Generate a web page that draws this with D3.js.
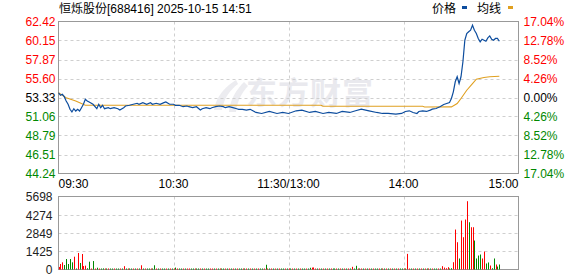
<!DOCTYPE html>
<html>
<head>
<meta charset="utf-8">
<script src="https://cdn.jsdelivr.net/npm/d3@7"></script>
<style>
  body { margin: 0; background: #fff; }
  svg { display: block; font-family: 'Liberation Sans', Arial, 'Noto Sans CJK SC', sans-serif; }
  .grid line { stroke: #cfcfcf; stroke-dasharray: 3,3; }
</style>
</head>
<body>
<svg id="chart"></svg>
<script>
// --- data ---
const title = '恒烁股份[688416] 2025-10-15 14:51';
const prevClose = 53.33;
const priceTicks = [62.42, 60.15, 57.87, 55.60, 53.33, 51.06, 48.79, 46.51, 44.24];
const pctTicks = ['17.04%', '12.78%', '8.52%', '4.26%', '0.00%', '4.26%', '8.52%', '12.78%', '17.04%'];
const volTicks = [5698, 4274, 2849, 1425, 0];
const timeLabels = ['09:30', '10:30', '11:30/13:00', '14:00', '15:00'];
const timeMinutes = [0, 60, 120, 180, 240];

// price line (minute index, price)
const priceMin = [0, 1, 2, 3, 4, 5, 6, 7, 8, 9, 10, 11, 12, 13, 14, 15, 16, 18, 20, 21, 22, 23, 24, 26, 27, 29, 31, 32, 34, 35,
  37, 39, 41, 42, 44, 46, 48, 49, 51, 53, 55, 56, 58, 60, 61, 63, 65, 67, 68, 70, 72, 74, 75, 77, 79, 80, 82, 84, 86, 87,
  89, 91, 93, 94, 96, 98, 100, 103, 106, 110, 114, 117, 120, 124, 127, 131, 134, 138, 141, 145, 148, 152, 155, 158, 162, 166, 169, 172, 176, 179,
  181, 183, 185, 187, 188, 190, 192, 194, 195, 197, 199, 201, 204, 205, 206, 207, 208, 209, 210, 211, 212, 213, 214, 215, 216, 217, 218, 219, 220, 221,
  222, 223, 224, 225, 226, 227, 228, 229, 230];
const priceVal = [53.90, 53.59, 53.71, 53.43, 52.91, 52.52, 51.92, 51.60, 51.99, 51.71, 51.92, 51.71, 52.11, 52.52, 53.11, 52.91, 52.79, 52.52, 51.99, 52.52, 52.11, 52.40, 51.99, 52.11, 51.99, 52.11, 51.99, 51.83, 52.11, 52.31,
  52.40, 52.52, 52.64, 52.52, 52.71, 52.52, 52.71, 52.52, 52.64, 52.52, 52.71, 52.79, 52.52, 52.52, 52.40, 52.40, 52.23, 52.31, 52.23, 52.11, 52.23, 51.83, 51.99, 52.11, 51.99, 52.11, 52.23, 52.31, 52.23, 52.11,
  52.23, 52.11, 51.99, 51.92, 51.92, 51.83, 51.92, 51.54, 51.42, 51.66, 51.42, 51.54, 51.42, 51.74, 51.82, 51.54, 51.66, 51.42, 51.54, 51.42, 51.66, 51.54, 51.74, 51.94, 51.74, 51.54, 51.42, 51.42, 51.34, 51.42,
  51.66, 51.74, 51.54, 51.42, 51.66, 51.74, 51.66, 51.82, 51.94, 52.01, 52.22, 52.49, 52.73, 53.21, 54.01, 55.21, 55.81, 55.00, 55.81, 57.60, 60.18, 60.98, 61.19, 61.38, 61.98, 61.38, 60.98, 60.39, 59.99, 60.30,
  60.18, 60.06, 60.46, 60.70, 60.30, 60.18, 60.39, 60.39, 60.06];

// average line (minute index, price)
const avgMin = [0, 4, 9, 14, 137, 138, 190, 191, 205, 208, 210, 213, 216, 218, 222, 225, 230];
const avgVal = [53.90, 53.31, 52.91, 52.40, 52.40, 52.28, 52.28, 52.20, 52.21, 52.61, 53.21, 54.20, 55.00, 55.52, 55.72, 55.81, 55.88];

// volume per minute (m0..m230) and direction r = up, g = down
const volumes = [
  200, 430, 560, 350, 820, 430, 820, 560, 1000, 80,
  1290, 510, 1210, 270, 300, 100, 610, 60, 660, 70,
  140, 60, 50, 90, 60, 40, 70, 50, 60, 80,
  60, 40, 50, 70, 260, 50, 60, 40, 70, 50,
  60, 50, 40, 330, 60, 50, 40, 70, 50, 60,
  330, 50, 60, 40, 70, 50, 40, 60, 50, 70,
  50, 150, 60, 40, 50, 70, 50, 60, 40, 50,
  60, 50, 40, 70, 60, 50, 40, 60, 50, 70,
  50, 60, 40, 50, 70, 60, 50, 40, 60, 50,
  60, 40, 70, 50, 60, 50, 40, 60, 70, 50,
  50, 60, 40, 70, 50, 60, 40, 60, 370, 50,
  60, 50, 70, 40, 60, 50, 40, 60, 50, 70,
  80, 60, 50, 40, 60, 70, 50, 40, 60, 50,
  60, 135, 150, 160, 60, 50, 40, 60, 50, 70,
  50, 60, 40, 70, 50, 60, 40, 50, 60, 70,
  60, 50, 40, 210, 60, 290, 50, 60, 40, 50,
  60, 50, 70, 40, 60, 50, 60, 40, 50, 70,
  50, 60, 40, 60, 50, 70, 40, 60, 50, 60,
  70, 50, 1220, 60, 50, 40, 60, 50, 70, 50,
  60, 50, 40, 60, 70, 50, 60, 40, 50, 60,
  260, 150, 100, 180, 60, 100, 570, 3120, 2130, 860,
  3820, 2520, 3900, 5330, 3690, 3300, 3300, 2260, 860, 1090,
  1170, 860, 1400, 470, 550, 310, 100, 860, 390, 230,
  390];
const volDirs = [
  'rrrgggggrg', 'rgrrrggrgr', 'grggrgrggr', 'ggrgrgrggr', 'grgrgrggrg',
  'grgrggrgrg', 'rgrggrgrrg', 'grggrgrggr', 'rgrgrggrgr', 'grgrggrgrg',
  'rgrgrggrgr', 'grgrgrggrg', 'rgrgrgrggr', 'ggrrrgrgrg', 'rgrggrgrgr',
  'grgrggrgrg', 'rgrgrggrgr', 'grgrgrgrgg', 'rgrrgrgrgr', 'grgrgrggrg',
  'rrrrggrrrg', 'rrrrgrrggg', 'grrggrggrg', 'g'].join('');

class TimeShareChart {
  constructor(_config) {
    this.config = {
      parentElement: _config.parentElement,
      containerWidth: 578,
      containerHeight: 276,
      main: { left: 58.5, right: 518.5, top: 21.5, bottom: 173.5 },
      vol: { top: 196.5, bottom: 269.5 },
      upColor: '#ff0000',
      downColor: '#008800',
      priceColor: '#0d4d9e',
      avgColor: '#e0a020',
    };
    this.initVis();
  }

  initVis() {
    const vis = this;
    const c = vis.config;

    vis.svg = d3.select(c.parentElement)
      .attr('width', c.containerWidth)
      .attr('height', c.containerHeight);

    vis.xScale = d3.scaleLinear().domain([0, 240]).range([c.main.left, c.main.right]);
    vis.yScale = d3.scaleLinear().domain([44.24, 62.42]).range([c.main.bottom, c.main.top]);
    vis.vScale = d3.scaleLinear().domain([0, 5698]).range([c.vol.bottom, c.vol.top]);

    vis.tickColor = (v) => {
      if (Math.abs(v - prevClose) < 0.005) return '#000';
      return v > prevClose ? c.upColor : c.downColor;
    };

    vis.drawWatermark();
    vis.drawGrid();
    vis.drawAxes();
    vis.drawHeader();
    vis.renderVis();
  }

  drawWatermark() {
    const vis = this;
    const wm = vis.svg.append('g').attr('class', 'watermark');
    // rough logo shape
    wm.append('path')
      .attr('d', 'M236,80 C226,86 216,96 214,110 L222,110 C224,98 230,90 238,84 Z M244,82 C236,90 230,100 229,112 L236,112 C237,102 242,92 248,86 Z')
      .attr('fill', '#ececf0');
    wm.append('text')
      .attr('x', 246)
      .attr('y', 104)
      .attr('font-family', "'Noto Sans CJK SC', sans-serif")
      .attr('font-size', 31)
      .attr('font-weight', 'bold')
      .attr('letter-spacing', 1)
      .attr('fill', '#e9e9ee')
      .text('东方财富');
  }

  drawGrid() {
    const vis = this;
    const c = vis.config;
    const grid = vis.svg.append('g').attr('class', 'grid');

    // horizontal dashed lines in price panel
    grid.selectAll('.hgrid')
      .data(priceTicks.slice(1, -1))
      .join('line')
      .attr('x1', c.main.left)
      .attr('x2', c.main.right)
      .attr('y1', (d) => Math.round(vis.yScale(d)) + 0.5)
      .attr('y2', (d) => Math.round(vis.yScale(d)) + 0.5);

    // vertical dashed lines, both panels
    const inner = timeMinutes.slice(1, -1);
    grid.selectAll('.vgrid')
      .data(inner)
      .join('line')
      .attr('x1', (d) => Math.round(vis.xScale(d)) + 0.5)
      .attr('x2', (d) => Math.round(vis.xScale(d)) + 0.5)
      .attr('y1', c.main.top)
      .attr('y2', c.main.bottom);
    grid.selectAll('.vgrid2')
      .data(inner)
      .join('line')
      .attr('x1', (d) => Math.round(vis.xScale(d)) + 0.5)
      .attr('x2', (d) => Math.round(vis.xScale(d)) + 0.5)
      .attr('y1', c.vol.top)
      .attr('y2', c.vol.bottom);

    // volume horizontal lines
    grid.selectAll('.vhgrid')
      .data(volTicks.slice(1, -1))
      .join('line')
      .attr('x1', c.main.left)
      .attr('x2', c.main.right)
      .attr('y1', (d) => Math.round(vis.vScale(d)) + 0.5)
      .attr('y2', (d) => Math.round(vis.vScale(d)) + 0.5);
  }

  drawAxes() {
    const vis = this;
    const c = vis.config;

    // left price labels
    const yAxisL = d3.axisLeft(vis.yScale).tickValues(priceTicks).tickSize(0).tickPadding(3)
      .tickFormat((d) => d.toFixed(2));
    vis.svg.append('g')
      .attr('transform', `translate(${c.main.left},0)`)
      .call(yAxisL)
      .call((g) => g.select('.domain').remove())
      .call((g) => g.selectAll('text')
        .attr('font-size', 12)
        .attr('font-family', "'Liberation Sans', Arial, sans-serif")
        .attr('dy', '0.36em')
        .attr('fill', (d) => vis.tickColor(d)));

    // right percent labels
    const yAxisR = d3.axisRight(vis.yScale).tickValues(priceTicks).tickSize(0).tickPadding(5)
      .tickFormat((d, i) => pctTicks[i]);
    vis.svg.append('g')
      .attr('transform', `translate(${c.main.right},0)`)
      .call(yAxisR)
      .call((g) => g.select('.domain').remove())
      .call((g) => g.selectAll('text')
        .attr('font-size', 12)
        .attr('font-family', "'Liberation Sans', Arial, sans-serif")
        .attr('dy', '0.36em')
        .attr('fill', (d) => vis.tickColor(d)));

    // volume labels
    const vAxis = d3.axisLeft(vis.vScale).tickValues(volTicks).tickSize(0).tickPadding(6)
      .tickFormat((d) => d);
    vis.svg.append('g')
      .attr('transform', `translate(${c.main.left},0)`)
      .call(vAxis)
      .call((g) => g.select('.domain').remove())
      .call((g) => g.selectAll('text')
        .attr('font-size', 12)
        .attr('font-family', "'Liberation Sans', Arial, sans-serif")
        .attr('dy', '0.36em')
        .attr('fill', '#222'));

    // time labels
    vis.svg.append('g')
      .selectAll('text')
      .data(timeLabels)
      .join('text')
      .attr('x', (d, i) => vis.xScale(timeMinutes[i]))
      .attr('y', c.main.bottom + 14)
      .attr('text-anchor', (d, i) => {
        if (i === 0) return 'start';
        if (i === timeLabels.length - 1) return 'end';
        return 'middle';
      })
      .attr('font-size', 12)
      .attr('fill', '#000')
      .text((d) => d);

    // frames
    vis.svg.append('rect')
      .attr('x', c.main.left).attr('y', c.main.top)
      .attr('width', c.main.right - c.main.left)
      .attr('height', c.main.bottom - c.main.top)
      .attr('fill', 'none').attr('stroke', '#999');
    vis.svg.append('rect')
      .attr('x', c.main.left).attr('y', c.vol.top)
      .attr('width', c.main.right - c.main.left)
      .attr('height', c.vol.bottom - c.vol.top)
      .attr('fill', 'none').attr('stroke', '#999');
  }

  drawHeader() {
    const vis = this;
    vis.svg.append('text')
      .attr('x', 59)
      .attr('y', 13)
      .attr('font-size', 12)
      .attr('fill', '#000')
      .text(title);

    const legend = vis.svg.append('g').attr('class', 'legend');
    legend.append('text').attr('x', 432).attr('y', 13).attr('font-size', 12)
      .attr('font-family', "'Noto Sans CJK SC', sans-serif").text('价格');
    legend.append('rect').attr('x', 462).attr('y', 6).attr('width', 5).attr('height', 3)
      .attr('fill', vis.config.priceColor);
    legend.append('text').attr('x', 477).attr('y', 13).attr('font-size', 12)
      .attr('font-family', "'Noto Sans CJK SC', sans-serif").text('均线');
    legend.append('rect').attr('x', 508).attr('y', 6).attr('width', 5).attr('height', 3)
      .attr('fill', vis.config.avgColor);
  }

  renderVis() {
    const vis = this;
    const c = vis.config;

    // volume bars
    vis.svg.append('g')
      .selectAll('rect')
      .data(volumes)
      .join('rect')
      .attr('x', (d, i) => Math.round(vis.xScale(i)))
      .attr('width', 1)
      .attr('y', (d) => Math.min(vis.vScale(d), c.vol.bottom - 1))
      .attr('height', (d) => Math.max(c.vol.bottom - vis.vScale(d), 1))
      .attr('fill', (d, i) => (volDirs[i] === 'r' ? c.upColor : c.downColor));

    const line = d3.line()
      .x((d) => vis.xScale(d[0]))
      .y((d) => vis.yScale(d[1]));

    vis.svg.append('path')
      .datum(avgMin.map((m, i) => [m, avgVal[i]]))
      .attr('d', line)
      .attr('fill', 'none')
      .attr('stroke', c.avgColor)
      .attr('stroke-width', 1.1);

    vis.svg.append('path')
      .datum(priceMin.map((m, i) => [m, priceVal[i]]))
      .attr('d', line)
      .attr('fill', 'none')
      .attr('stroke', c.priceColor)
      .attr('stroke-width', 1.2);
  }
}

const chart = new TimeShareChart({ parentElement: '#chart' });
</script>
</body>
</html>
